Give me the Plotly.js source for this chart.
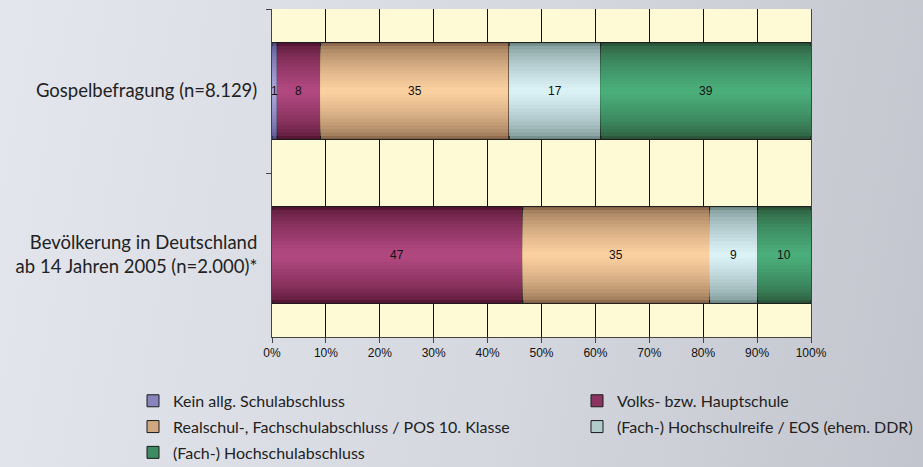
<!DOCTYPE html>
<html>
<head>
<meta charset="utf-8">
<script src="https://cdn.plot.ly/plotly-3.0.1.min.js"></script>
<style>
html,body{margin:0;padding:0;}
body{width:923px;height:467px;overflow:hidden;background:linear-gradient(100deg,#e4e6ed 0%,#d6d8e0 55%,#c2c5cd 100%);}
#chart{width:923px;height:467px;}
</style>
</head>
<body>
<div id="chart"></div>
<script>
// ---- data ----
const categories = ['Gospelbefragung (n=8.129)', 'Bevölkerung in Deutschland<br>ab 14 Jahren 2005 (n=2.000)*'];
const seriesNames = ['Kein allg. Schulabschluss', 'Volks- bzw. Hauptschule', 'Realschul-, Fachschulabschluss / POS 10. Klasse', '(Fach-) Hochschulreife / EOS (ehem. DDR)', '(Fach-) Hochschulabschluss'];
const keinAbschluss = [1, 0];
const hauptschule = [8, 47];
const realschule = [35, 35];
const hochschulreife = [17, 9];
const hochschulabschluss = [39, 10];
const xTickLabels = ['0%','10%','20%','30%','40%','50%','60%','70%','80%','90%','100%'];

// ---- styling ----
const darkCols  = ['#55508f', '#561634', '#8f6c4e', '#77918f', '#2b573b'];
const lightCols = ['#aaa6da', '#b0487f', '#fbd0a0', '#daf1f6', '#4aae7a'];
const legendOf  = ['legend', 'legend2', 'legend', 'legend2', 'legend'];
const barWidth = 0.59;
const nBands = 14;

function hex2rgb(h){h=h.replace('#','');return [parseInt(h.substr(0,2),16),parseInt(h.substr(2,2),16),parseInt(h.substr(4,2),16)];}
function lerp(a,b,t){const A=hex2rgb(a),B=hex2rgb(b);return 'rgb('+A.map((v,i)=>Math.round(v+(B[i]-v)*t)).join(',')+')';}

const seriesVals = [keinAbschluss, hauptschule, realschule, hochschulreife, hochschulabschluss];
// normalize to 100% per category
const totals = categories.map((c,j)=>seriesVals.reduce((s,arr)=>s+arr[j],0));
const pct = seriesVals.map(arr=>arr.map((v,j)=>v/totals[j]*100));
const bases = seriesVals.map((arr,i)=>arr.map((v,j)=>{let s=0;for(let k=0;k<i;k++)s+=pct[k][j];return s;}));

const traces = [];
seriesVals.forEach((arr,i)=>{
  // legend entry (mid colour), hidden under the bands
  traces.push({
    type:'bar', orientation:'h', y:categories, x:pct[i], base:bases[i], width:barWidth,
    name:seriesNames[i], legendgroup:'g'+i, legend:legendOf[i], showlegend:true,
    marker:{color:lerp(darkCols[i],lightCols[i],0.6), line:{width:1,color:'#1a1a1a'}}, hoverinfo:'skip'
  });
  for(let k=0;k<nBands;k++){
    const t = Math.pow(k/(nBands-1),0.6);
    const w = barWidth*(1-k/nBands);
    traces.push({
      type:'bar', orientation:'h',
      y: categories, x: pct[i], base: bases[i],
      width: w, legendgroup:'g'+i, legend:legendOf[i], showlegend:false,
      marker:{color: lerp(darkCols[i],lightCols[i],t),
              line:{width: k===0?1:0, color: k===0?'#1a1a1a':'rgba(0,0,0,0)'}},
      hoverinfo:'skip'
    });
  }
});

const annotations = [];
seriesVals.forEach((arr,i)=>{
  arr.forEach((v,j)=>{
    if(v>0){
      annotations.push({x: bases[i][j]+pct[i][j]/2, y: categories[j], xref:'x', yref:'y',
        text: String(v), showarrow:false, font:{family:'Liberation Sans, Arial', size:12, color:'#111'}});
    }
  });
});

const legendFont = {family:'Lato, Open Sans, sans-serif', size:16, color:'#222'};
const layout = {
  width:923, height:467,
  margin:{l:272, r:112, t:9, b:130, autoexpand:false},
  paper_bgcolor:'rgba(0,0,0,0)',
  plot_bgcolor:'#fefad5',
  barmode:'overlay',
  showlegend:true,
  xaxis:{range:[0,100], tickvals:[0,10,20,30,40,50,60,70,80,90,100], ticktext:xTickLabels,
    showgrid:true, gridcolor:'#111', gridwidth:1, zeroline:false, automargin:false,
    showline:true, linecolor:'#444', linewidth:1, mirror:false,
    ticks:'outside', ticklen:5, tickcolor:'#444',
    tickfont:{family:'Liberation Sans, Arial', size:12, color:'#111'}},
  yaxis:{type:'category', range:[1.5,-0.5], tickson:'boundaries', ticks:'outside', ticklen:5, tickcolor:'#444',
    showgrid:false, zeroline:false, showline:true, linecolor:'#444', linewidth:1, mirror:true, automargin:false,
    ticklabelstandoff:10,
    tickfont:{family:'Lato, Open Sans, sans-serif', size:18.5, color:'#222'}},
  legend:{orientation:'v', xref:'container', yref:'container', x:133/923, y:0.178, xanchor:'left', yanchor:'top',
    traceorder:'grouped', font:legendFont, bgcolor:'rgba(0,0,0,0)', tracegroupgap:2},
  legend2:{orientation:'v', xref:'container', yref:'container', x:577/923, y:0.178, xanchor:'left', yanchor:'top',
    traceorder:'grouped', font:legendFont, bgcolor:'rgba(0,0,0,0)', tracegroupgap:2},
  annotations: annotations
};

Plotly.newPlot('chart', traces, layout, {displayModeBar:false, staticPlot:true});
</script>
</body>
</html>
